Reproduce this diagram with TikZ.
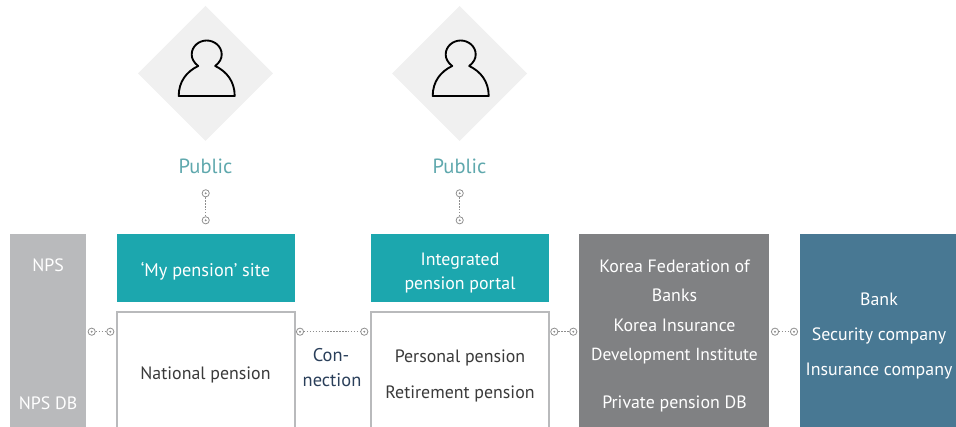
\documentclass[tikz,border=0pt]{standalone}
\usepackage{fontspec}
\setmainfont{PT Sans}
\usetikzlibrary{shapes.geometric,arrows.meta}
\definecolor{teal1}{HTML}{1CA7AE}
\definecolor{lgray}{HTML}{B9BABC}
\definecolor{dgray}{HTML}{808183}
\definecolor{steel}{HTML}{487893}
\definecolor{pub}{HTML}{5FA8AD}
\definecolor{navy}{HTML}{2A3F5A}
\definecolor{ink}{HTML}{3A3A3A}
\definecolor{dotc}{HTML}{8E8E8E}
\tikzset{
 x=0.75pt,y=-0.75pt,
 outline/.style={draw=lgray,line width=1.5pt,fill=white},
 boxtext/.style={font=\fontsize{13.4}{13.4}\selectfont,text=white,anchor=base,inner sep=0},
 darktext/.style={font=\fontsize{13.4}{13.4}\selectfont,text=ink,anchor=base,inner sep=0},
 context/.style={font=\fontsize{13.8}{13.8}\selectfont,text=navy,anchor=base,inner sep=0},
 pubtext/.style={font=\fontsize{15.4}{15.4}\selectfont,text=pub,anchor=base,inner sep=0},
 dot/.style={circle,draw=dotc,line width=0.6pt,minimum size=5.4pt,inner sep=0,
   path picture={\fill[dotc] (path picture bounding box.center) circle (0.8pt);}},
 link/.style={draw=dotc,line width=1.1pt,dash pattern=on 1.1pt off 1.1pt},
 headline/.style={draw=black,line width=1.4pt,line join=round},
 pics/diamondbg/.style={code={
   \fill[black!6] (0,-67.5) -- (67.5,0) -- (0,67.5) -- (-67.5,0) -- cycle;
 }},
 pics/person/.style={code={
   \draw[headline] (-28,22.5) -- (28,22.5)
     .. controls (28,8) and (20,-2) .. (8.5,-7.5)
     .. controls (13,-11) and (15,-15) .. (15,-19)
     .. controls (15,-27) and (8,-33) .. (0,-33)
     .. controls (-8,-33) and (-15,-27) .. (-15,-19)
     .. controls (-15,-15) and (-13,-11) .. (-8.5,-7.5)
     .. controls (-20,-2) and (-28,8) .. (-28,22.5) -- cycle;
 }}
}
\begin{document}
\begin{tikzpicture}
\useasboundingbox (0,0) rectangle (956,427);
\pic at (205.5,73.5) {diamondbg};
\pic at (459.5,73.5) {diamondbg};
\pic at (206.7,73.5) {person};
\pic at (460.7,73.5) {person};
\node[pubtext] (pub1) at (205.5,174) {Public};
\node[pubtext] (pub2) at (459.5,174) {Public};

\fill[lgray] (10,234) rectangle (86,427);
\node[boxtext] (nps) at (48,271.5) {NPS};
\node[boxtext] (npsdb) at (48,409.5) {NPS DB};

\fill[teal1] (117,234) rectangle (295,302);
\node[boxtext,font=\fontsize{13.7}{13.7}\selectfont] (my) at (205.5,276.7) {‘My pension’ site};
\path[outline] (117,427) -- (117,312) -- (295,312) -- (295,427);
\node[darktext] (nat) at (205.5,379) {National pension};

\node[context] (con1) at (331,362) {Con-};
\node[context] (con2) at (332,386) {nection};

\fill[teal1] (371,234) rectangle (549,302);
\node[boxtext] (port1) at (460,266) {Integrated};
\node[boxtext] (port2) at (460,289.5) {pension portal};
\path[outline] (371,427) -- (371,312) -- (549,312) -- (549,427);
\node[darktext] (per) at (460,363) {Personal pension};
\node[darktext] (ret) at (460,398) {Retirement pension};

\fill[dgray] (579,234) rectangle (769,427);
\node[boxtext] (kf) at (674.5,272.3) {Korea Federation of};
\node[boxtext] (banks) at (674.5,301.7) {Banks};
\node[boxtext] (ki) at (674.5,332) {Korea Insurance};
\node[boxtext,font=\fontsize{13.1}{13.1}\selectfont] (dev) at (674.5,360.3) {Development Institute};
\node[boxtext] (priv) at (674.5,408.3) {Private pension DB};

\fill[steel] (800,234) rectangle (956,427);
\node[boxtext] (bank) at (879,305.5) {Bank};
\node[boxtext] (sec) at (879,340.5) {Security company};
\node[boxtext] (ins) at (879,375.5) {Insurance company};

\node[dot] (a1) at (205.7,193.3) {};
\node[dot] (a2) at (205.7,220.3) {};
\node[dot] (b1) at (459.7,193.3) {};
\node[dot] (b2) at (459.7,220.3) {};
\node[dot] (c1) at (91.7,331.7) {};
\node[dot] (c2) at (110.3,331.7) {};
\node[dot] (d1) at (300,331.7) {};
\node[dot] (d2) at (364.3,331.7) {};
\node[dot] (e1) at (554.3,331.7) {};
\node[dot] (e2) at (573.3,331.7) {};
\node[dot] (f1) at (775,331.7) {};
\node[dot] (f2) at (794,331.7) {};
\foreach \p/\q in {a1/a2,b1/b2,c1/c2,d1/d2,e1/e2,f1/f2}
  \draw[link] (\p) -- (\q);
\end{tikzpicture}
\end{document}
